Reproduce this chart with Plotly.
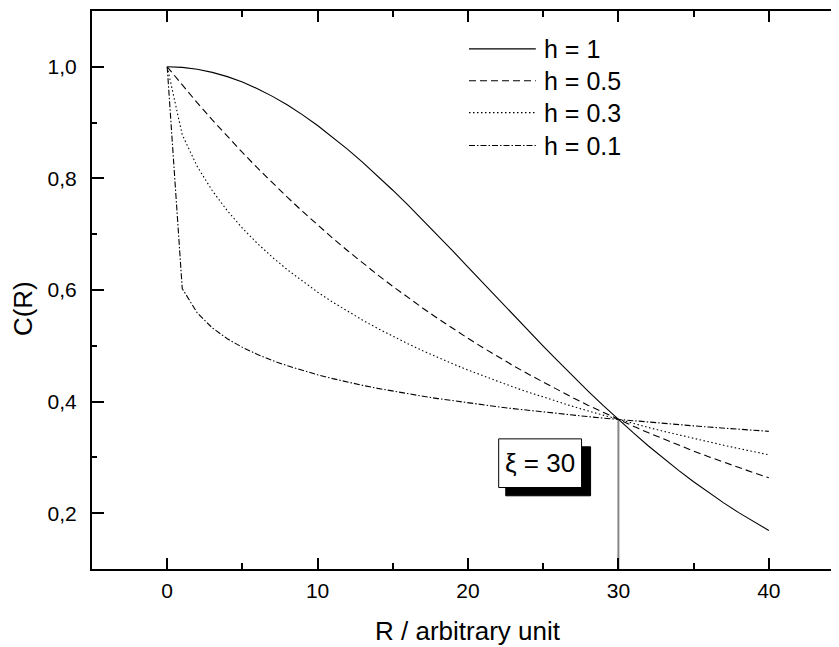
import plotly.graph_objects as go

# ---- data ----
R = list(range(0, 41))

c_h1 = [1.0000, 0.9989, 0.9956, 0.9900, 0.9824, 0.9726, 0.9608, 0.9470, 0.9314, 0.9139,
        0.8948, 0.8742, 0.8521, 0.8288, 0.8043, 0.7788, 0.7525, 0.7254, 0.6977, 0.6696,
        0.6412, 0.6126, 0.5841, 0.5556, 0.5273, 0.4994, 0.4719, 0.4449, 0.4185, 0.3928,
        0.3679, 0.3438, 0.3205, 0.2982, 0.2768, 0.2564, 0.2369, 0.2185, 0.2010, 0.1845,
        0.1690]

c_h05 = [1.0000, 0.9672, 0.9355, 0.9048, 0.8752, 0.8465, 0.8187, 0.7919, 0.7659, 0.7408,
         0.7165, 0.6930, 0.6703, 0.6483, 0.6271, 0.6065, 0.5866, 0.5674, 0.5488, 0.5308,
         0.5134, 0.4966, 0.4803, 0.4646, 0.4493, 0.4346, 0.4204, 0.4066, 0.3932, 0.3803,
         0.3679, 0.3558, 0.3442, 0.3329, 0.3220, 0.3114, 0.3012, 0.2913, 0.2818, 0.2725,
         0.2636]

c_h03 = [1.0000, 0.8782, 0.8212, 0.7779, 0.7420, 0.7108, 0.6834, 0.6586, 0.6361, 0.6153,
         0.5961, 0.5783, 0.5616, 0.5459, 0.5310, 0.5169, 0.5037, 0.4911, 0.4790, 0.4675,
         0.4565, 0.4460, 0.4360, 0.4262, 0.4170, 0.4080, 0.3994, 0.3911, 0.3831, 0.3754,
         0.3679, 0.3606, 0.3536, 0.3468, 0.3403, 0.3339, 0.3277, 0.3217, 0.3159, 0.3102,
         0.3047]

c_h01 = [1.0000, 0.6026, 0.5589, 0.5321, 0.5126, 0.4972, 0.4844, 0.4735, 0.4641, 0.4557,
         0.4481, 0.4412, 0.4349, 0.4291, 0.4237, 0.4187, 0.4140, 0.4096, 0.4054, 0.4014,
         0.3977, 0.3941, 0.3907, 0.3874, 0.3843, 0.3813, 0.3784, 0.3757, 0.3730, 0.3704,
         0.3679, 0.3655, 0.3631, 0.3609, 0.3587, 0.3565, 0.3544, 0.3524, 0.3505, 0.3486,
         0.3467]

series_names = ["h = 1", "h = 0.5", "h = 0.3", "h = 0.1"]
series_values = [c_h1, c_h05, c_h03, c_h01]

xi_x = [30, 30]
xi_y = [0.3679, 0.1]
xi_label = "ξ = 30"

x_title = "R / arbitrary unit"
y_title = "C(R)"

# ---- styles ----
dashes = ["solid", "7px,4px", "1.5px,2.5px", "6px,2px,1.5px,2px"]
FONT = "Liberation Sans, Arial, sans-serif"

fig = go.Figure()
for name, vals, d in zip(series_names, series_values, dashes):
    fig.add_trace(go.Scatter(x=R, y=vals, mode="lines", name=name,
                             line=dict(color="black", width=1.1, dash=d),
                             showlegend=False, hoverinfo="skip"))

fig.add_trace(go.Scatter(x=xi_x, y=xi_y, mode="lines",
                         line=dict(color="#111", width=2, dash="1px,1px"),
                         showlegend=False, hoverinfo="skip"))

# page offset (body margin) of the rendered figure
OFF = 8
W, H = 839, 647
L, Rm, T, B = 92 - OFF, 1, 9 - OFF, H - (569 - OFF)

xr = [-5, 45]
yr = [0.1, 1.1]

tickfont = dict(family=FONT, size=21, color="black")

fig.update_layout(
    width=W, height=H,
    margin=dict(l=L, r=Rm, t=T, b=B, pad=0),
    paper_bgcolor="white", plot_bgcolor="white",
    separators=",.",
    font=dict(family=FONT, color="black"),
    xaxis=dict(range=xr, showgrid=False, zeroline=False,
               showline=True, linecolor="black", linewidth=2, mirror="ticks",
               ticks="inside", ticklen=11, tickwidth=2, tickcolor="black",
               tick0=0, dtick=10, tickfont=tickfont,
               minor=dict(ticks="inside", ticklen=6, tickwidth=2, tickcolor="black", dtick=5, tick0=0),
               ticklabelstandoff=2),
    yaxis=dict(range=yr, showgrid=False, zeroline=False,
               showline=True, linecolor="black", linewidth=2, mirror="ticks",
               ticks="inside", ticklen=12, tickwidth=2, tickcolor="black",
               tick0=0.2, dtick=0.2, tickformat=".1f", tickfont=tickfont,
               minor=dict(ticks="inside", ticklen=5, tickwidth=2, tickcolor="black", dtick=0.1, tick0=0.1),
               ticklabelstandoff=9),
)

pw = W - L - Rm
ph = H - T - B
def px_x(px):
    return (px - OFF - L) / pw
def px_y(py):
    return (H - B - (py - OFF)) / ph

# axis titles
fig.add_annotation(text=x_title, xref="paper", yref="paper", x=px_x(469.5), y=px_y(631),
                   xanchor="center", yanchor="middle", showarrow=False,
                   font=dict(family=FONT, size=26, color="black"))
fig.add_annotation(text=y_title, xref="paper", yref="paper", x=px_x(23), y=px_y(308),
                   xanchor="center", yanchor="middle", textangle=-90, showarrow=False,
                   font=dict(family=FONT, size=26, color="black"))

# legend (drawn by hand to match the long line samples)
leg_y = [47, 79, 111, 144]
for name, d, yy in zip(series_names, dashes, leg_y):
    fig.add_shape(type="line", xref="paper", yref="paper",
                  x0=px_x(470), x1=px_x(537), y0=px_y(yy), y1=px_y(yy),
                  line=dict(color="black", width=1.1, dash=d))
    fig.add_annotation(text=name, xref="paper", yref="paper", x=px_x(543), y=px_y(yy),
                       xanchor="left", yanchor="middle", showarrow=False,
                       font=dict(family=FONT, size=25, color="black"))

# xi label box with shadow
fig.add_shape(type="rect", xref="x", yref="y", x0=22.51, x1=28.15, y0=0.2312, y1=0.3190,
              fillcolor="black", line=dict(color="black", width=1), layer="above")
fig.add_shape(type="rect", xref="x", yref="y", x0=22.04, x1=27.55, y0=0.2460, y1=0.3332,
              fillcolor="white", line=dict(color="black", width=1), layer="above")
fig.add_annotation(text=xi_label, xref="x", yref="y", x=24.8, y=0.2896,
                   xanchor="center", yanchor="middle", showarrow=False,
                   font=dict(family=FONT, size=26, color="black"))

fig.write_html("out.html")
